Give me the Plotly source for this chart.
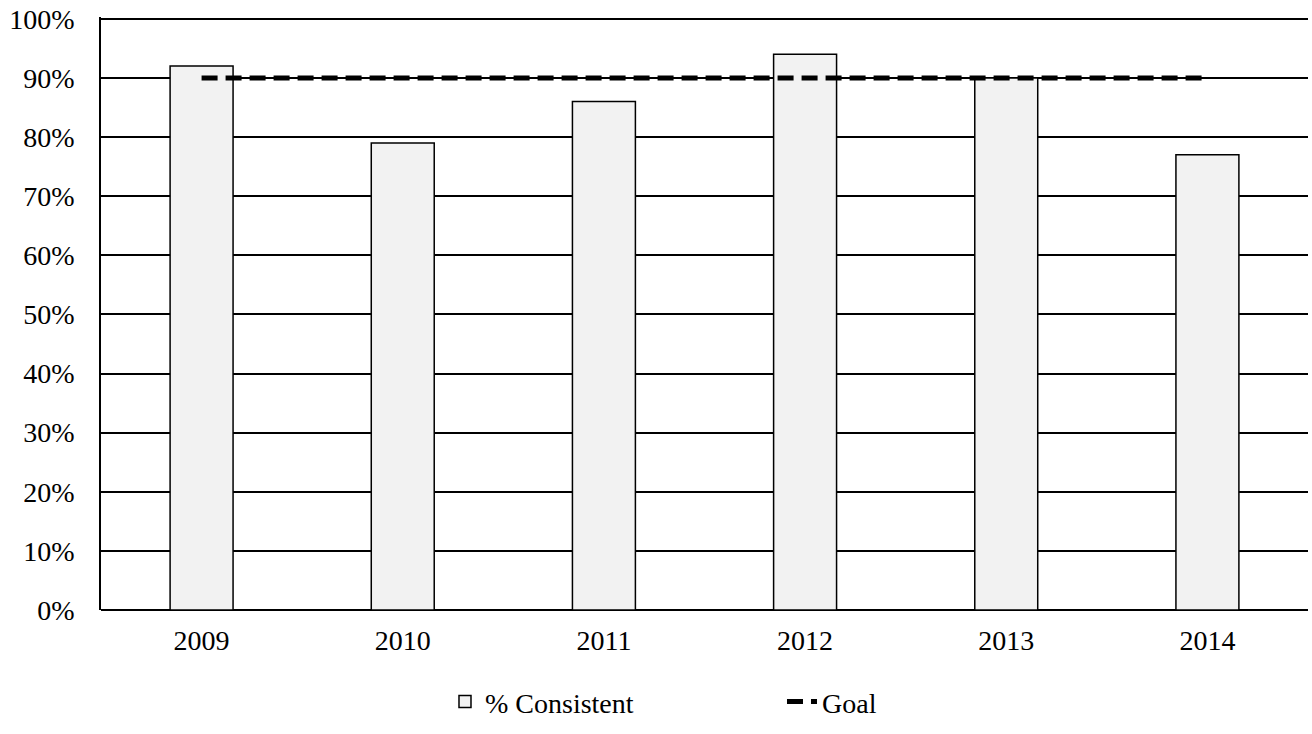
import plotly.graph_objects as go

years = ["2009", "2010", "2011", "2012", "2013", "2014"]
consistent = [0.92, 0.79, 0.86, 0.94, 0.90, 0.77]
goal = [0.90, 0.90, 0.90, 0.90, 0.90, 0.90]
y_ticks = [0, 0.1, 0.2, 0.3, 0.4, 0.5, 0.6, 0.7, 0.8, 0.9, 1.0]
y_labels = ["0%", "10%", "20%", "30%", "40%", "50%", "60%", "70%", "80%", "90%", "100%"]

font = dict(family="Liberation Serif, Times New Roman, serif", size=28, color="black")

fig = go.Figure()
fig.add_trace(go.Bar(
    x=years, y=consistent, name="% Consistent",
    marker=dict(color="#f2f2f2", line=dict(color="black", width=1.5)),
))
fig.add_trace(go.Scatter(
    x=years, y=goal, name="Goal", mode="lines",
    line=dict(color="black", width=5, dash="16px,8px"),
))

fig.update_layout(
    width=1312, height=734,
    margin=dict(l=101, r=4, t=15, b=124),
    paper_bgcolor="white", plot_bgcolor="white",
    font=font,
    bargap=0.687,
    showlegend=True,
    legend=dict(orientation="h", x=0.285, xanchor="left", y=-0.155, yanchor="middle",
                entrywidth=292, entrywidthmode="pixels", font=font,
                traceorder="normal"),
    xaxis=dict(showgrid=False, showline=False, ticks="", tickfont=font, ticklabelstandoff=11),
    yaxis=dict(range=[0, 1.003], tickvals=y_ticks, ticktext=y_labels,
               showgrid=True, gridcolor="black", gridwidth=1.5,
               showline=True, linecolor="black", linewidth=1.5,
               zeroline=True, zerolinecolor="black", zerolinewidth=1.5,
               ticks="", tickfont=font, ticklabelstandoff=19),
)
fig.write_html("out.html")
